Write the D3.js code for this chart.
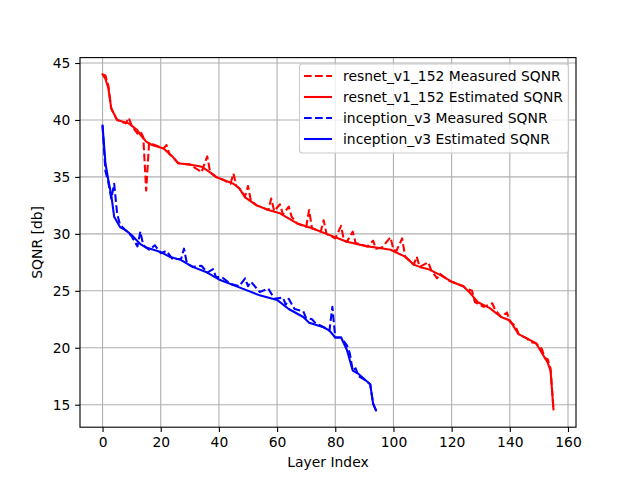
<!DOCTYPE html>
<html><head><meta charset="utf-8">
<script src="https://cdn.jsdelivr.net/npm/d3@7"></script>
<style>body{margin:0;background:#fff}svg{display:block;font-family:"DejaVu Sans",sans-serif}</style>
</head><body><svg id="c" width="640" height="480"></svg>
<script>
const resnetEstX = [0,1,2,3,5,9,10,12,13,15,17,21,24,26,32,34,37,39,41,45,47,49,53,57,61,67,72,77,82,84,91,94,99,104,107,109,112,116,120,124,126,129,133,137,140,143,149,153,154,155];
const resnetEstY = [44.0,43.6,42.8,41.0,40.0,39.7,39.5,39.1,38.7,38.1,37.8,37.5,36.8,36.2,36.0,35.9,35.4,35.0,34.8,34.4,34.0,33.2,32.5,32.1,31.8,30.9,30.5,30.0,29.5,29.3,28.9,28.8,28.6,28.0,27.3,27.1,26.9,26.4,25.8,25.4,24.9,24.0,23.5,22.7,22.4,21.2,20.4,18.7,18.0,14.6];
const resnetMeasX = [0,1,2,3,5,8,9,10,12,13,14,15,16,17,21,22,23,24,26,30,33,34,36,37,39,41,44,45,46,47,49,50,51,53,57,58,59,61,62,64,65,67,70,71,72,75,76,77,80,82,83,84,86,87,91,93,94,96,99,100,101,103,104,107,108,109,112,113,115,116,119,120,124,125,127,128,131,134,135,137,139,140,142,143,146,147,149,151,152,153,154,155];
const resnetMeasY = [44.0,43.9,43.0,41.0,40.0,39.7,40.2,39.5,38.8,39.0,38.5,33.8,38.0,37.9,37.5,37.8,37.0,36.8,36.2,36.1,35.6,35.4,36.8,35.4,35.0,34.8,34.4,35.3,34.2,34.0,33.3,34.2,32.9,32.5,32.1,33.1,32.0,32.6,31.7,32.4,31.5,30.9,30.6,32.1,30.5,30.2,31.2,30.0,29.6,30.7,29.4,29.3,30.2,29.2,28.9,29.4,28.7,28.8,29.7,28.6,28.5,29.6,28.0,27.3,28.0,27.1,27.5,26.8,26.1,26.5,25.9,25.8,25.4,25.2,25.0,24.0,23.6,23.9,23.3,22.7,23.1,22.3,21.9,21.2,20.8,20.5,20.4,19.9,19.1,19.0,18.2,14.6];
const inceptionEstX = [0,1,2,3,4,6,8,10,13,15,20,23,27,31,36,40,47,54,60,64,69,71,76,78,80,82,84,86,88,92,93,94];
const inceptionEstY = [39.5,36.2,34.7,33.4,31.5,30.6,30.3,29.9,29.1,28.8,28.4,28.0,27.7,27.1,26.6,26.0,25.3,24.6,24.2,23.4,22.7,22.2,21.8,21.5,20.9,20.9,19.8,18.0,17.7,16.8,15.1,14.5];
const inceptionMeasX = [0,1,2,3,4,5,6,8,10,12,13,14,16,18,20,22,24,27,28,29,31,34,36,38,39,41,44,47,49,50,51,54,57,59,62,63,64,66,69,70,72,73,76,78,79,80,82,84,85,86,87,88,90,92,93,94];
const inceptionMeasY = [39.5,35.5,34.5,33.1,34.4,31.8,30.8,30.3,29.8,28.9,30.2,29.0,28.6,29.0,28.3,28.5,27.8,27.8,28.7,27.4,27.1,27.2,26.6,26.9,26.2,26.2,25.6,25.4,26.1,25.4,25.8,24.9,25.2,24.3,24.4,23.8,24.3,23.4,23.2,22.6,22.5,22.2,21.8,21.5,23.6,20.9,20.9,20.2,19.5,18.0,18.2,17.5,17.2,16.8,15.1,14.5];
const xTicks = [0,20,40,60,80,100,120,140,160];
const yTicks = [15,20,25,30,35,40,45];
const legendLabels = ["resnet_v1_152 Measured SQNR","resnet_v1_152 Estimated SQNR","inception_v3 Measured SQNR","inception_v3 Estimated SQNR"];

const FS="13.89px";
const L=80,R=576,T=57.6,B=427.2;
const svg=d3.select("#c");
const x=d3.scaleLinear().domain([-7.75,162.75]).range([L,R]);
const y=d3.scaleLinear().domain([13.025,45.475]).range([B,T]);

const g=svg.append("g");
xTicks.forEach(t=>g.append("line").attr("x1",x(t)).attr("x2",x(t)).attr("y1",T).attr("y2",B).attr("stroke","#b0b0b0").attr("stroke-width",1.11));
yTicks.forEach(t=>g.append("line").attr("x1",L).attr("x2",R).attr("y1",y(t)).attr("y2",y(t)).attr("stroke","#b0b0b0").attr("stroke-width",1.11));

svg.append("clipPath").attr("id","cp").append("rect").attr("x",L).attr("y",T).attr("width",R-L).attr("height",B-T);
const line=d3.line().x(d=>x(d[0])).y(d=>y(d[1]));
const zip=(a,b)=>a.map((v,i)=>[v,b[i]]);
const series=[
 {d:zip(resnetMeasX,resnetMeasY),c:"#ff0000",dash:true},
 {d:zip(resnetEstX,resnetEstY),c:"#ff0000",dash:false},
 {d:zip(inceptionMeasX,inceptionMeasY),c:"#0000ff",dash:true},
 {d:zip(inceptionEstX,inceptionEstY),c:"#0000ff",dash:false}
];
const DASH="7.7,3.33";
const pg=svg.append("g").attr("clip-path","url(#cp)");
series.forEach(s=>pg.append("path").attr("d",line(s.d)).attr("fill","none").attr("stroke",s.c).attr("stroke-width",2.08)
 .attr("stroke-linejoin","round").attr("stroke-linecap",s.dash?"butt":"square").attr("stroke-dasharray",s.dash?DASH:null));

const xa=svg.append("g").attr("transform",`translate(0,${B})`).call(d3.axisBottom(x).tickValues(xTicks).tickSize(4.86).tickPadding(4.86).tickFormat(d3.format("d")));
const ya=svg.append("g").attr("transform",`translate(${L},0)`).call(d3.axisLeft(y).tickValues(yTicks).tickSize(4.86).tickPadding(4.86).tickFormat(d3.format("d")));
[xa,ya].forEach(a=>{a.select(".domain").remove();a.selectAll("line").attr("stroke","#000").attr("stroke-width",1.11);
 a.selectAll("text").attr("font-family","DejaVu Sans").attr("font-size",FS).attr("fill","#000");});
svg.append("rect").attr("x",L).attr("y",T).attr("width",R-L).attr("height",B-T).attr("fill","none").attr("stroke","#000").attr("stroke-width",1.11);

svg.append("text").attr("x",(L+R)/2).attr("y",467).attr("text-anchor","middle").attr("font-size",FS).text("Layer Index");
svg.append("text").attr("transform",`translate(42,${(T+B)/2}) rotate(-90)`).attr("text-anchor","middle").attr("font-size",FS).text("SQNR [db]");

const lg=svg.append("g");
lg.append("rect").attr("x",299.5).attr("y",64).attr("width",269).attr("height",89).attr("rx",3).attr("fill","#fff").attr("fill-opacity",0.8).attr("stroke","#cccccc").attr("stroke-width",1.11);
legendLabels.forEach((t,i)=>{
 const yy=76+i*21;
 lg.append("line").attr("x1",304).attr("x2",332).attr("y1",yy).attr("y2",yy).attr("stroke",series[i].c).attr("stroke-width",2.08).attr("stroke-dasharray",series[i].dash?DASH:null);
 lg.append("text").attr("x",343).attr("y",yy).attr("dy","0.35em").attr("font-size",FS).attr("fill","#000").text(t);
});
</script></body></html>
